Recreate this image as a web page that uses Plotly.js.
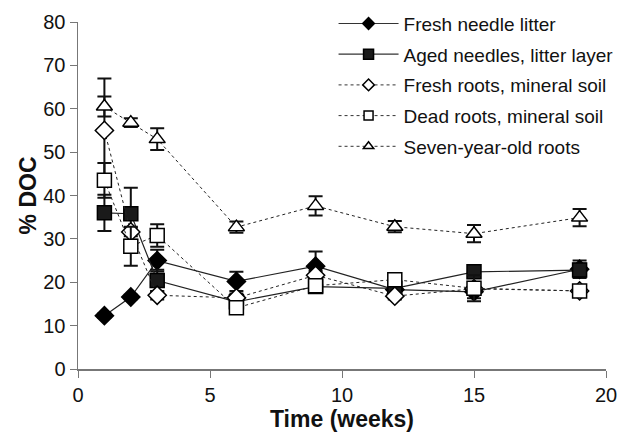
<!DOCTYPE html>
<html>
<head>
<meta charset="utf-8">
<script src="https://cdn.plot.ly/plotly-3.0.1.min.js"></script>
<style>html,body{margin:0;padding:0;background:#fff;}#chart{width:622px;height:435px;}</style>
</head>
<body>
<div id="chart"></div>
<script>
const weeks = [1, 2, 3, 6, 9, 12, 15, 19];

const seriesNames = [
  "Fresh needle litter",
  "Aged needles, litter layer",
  "Fresh roots, mineral soil",
  "Dead roots, mineral soil",
  "Seven-year-old roots"
];

const freshNeedle = [12.3, 16.6, 25.0, 20.2, 23.7, 18.3, 17.8, 23.0];
const freshNeedleErr = [0.5, 0.5, 2.5, 2.2, 3.4, 0.8, 1.5, 2.0];

const agedNeedles = [36.0, 35.8, 20.4, 15.5, 19.0, 18.6, 22.4, 22.8];
const agedNeedlesErr = [4.2, 6.0, 2.5, 1.0, 1.0, 1.0, 1.0, 1.5];

const freshRoots = [55.0, 31.6, 17.0, 16.4, 21.6, 16.8, 18.5, 18.0];
const freshRootsErr = [12.0, 1.0, 1.0, 1.0, 1.0, 0.8, 1.0, 0.8];

const deadRoots = [43.5, 28.3, 30.8, 14.1, 19.2, 20.6, 18.6, 18.0];
const deadRootsErr = [4.0, 4.5, 2.6, 1.0, 1.0, 1.0, 3.0, 1.0];

const sevenYear = [60.5, 56.8, 53.0, 32.7, 37.6, 32.8, 31.2, 34.9];
const sevenYearErr = [2.3, 1.0, 2.5, 1.3, 2.2, 1.3, 2.0, 2.0];

const values = [freshNeedle, agedNeedles, freshRoots, deadRoots, sevenYear];
const errors = [freshNeedleErr, agedNeedlesErr, freshRootsErr, deadRootsErr, sevenYearErr];
const symbols = ["diamond", "square", "diamond", "square", "triangle-up"];
const fills = ["#000", "#1a1a1a", "#fff", "#fff", "#fff"];
const dashes = ["solid", "solid", "dot", "dot", "dot"];

const dataTraces = seriesNames.map((name, i) => ({
  type: "scatter",
  mode: "lines+markers",
  name: name,
  legendgroup: "g" + i,
  showlegend: false,
  x: weeks,
  y: values[i],
  error_y: {type: "data", array: errors[i], visible: true, color: "#111", thickness: 2, width: 7},
  line: {color: "#222", width: i < 2 ? 1.2 : 1, dash: dashes[i]},
  marker: {symbol: symbols[i], size: 14, color: fills[i], line: {color: "#000", width: 1.5}}
}));

// legend-only entries (small symbols, as in the reference legend)
const legendTraces = seriesNames.map((name, i) => ({
  type: "scatter",
  mode: "lines+markers",
  name: name,
  legendgroup: "g" + i,
  x: [null],
  y: [null],
  line: {color: "#333", width: i < 2 ? 1.2 : 1, dash: dashes[i]},
  marker: {symbol: symbols[i], size: i === 1 ? 10 : 9, color: fills[i], line: {color: "#000", width: 1.5}}
}));

const layout = {
  width: 622, height: 435,
  margin: {l: 78, r: 16, t: 22, b: 66, autoexpand: false},
  paper_bgcolor: "#fff", plot_bgcolor: "#fff",
  font: {family: "Liberation Sans, Arial, sans-serif", color: "#111", size: 20},
  showlegend: true,
  legend: {
    x: 0.484, y: 1.05, xanchor: "left", yanchor: "top",
    bgcolor: "rgba(0,0,0,0)",
    font: {size: 19, family: "Liberation Sans, Arial, sans-serif"},
    tracegroupgap: 3,
    itemwidth: 60
  },
  xaxis: {
    range: [0, 20], tickvals: [0, 5, 10, 15, 20],
    showgrid: false, zeroline: false,
    showline: true, linecolor: "#777", linewidth: 1.5,
    ticks: "outside", ticklen: 7, tickcolor: "#777",
    tickfont: {size: 20},
    title: {text: "<b>Time (weeks)</b>", font: {size: 23}, standoff: 6}
  },
  yaxis: {
    range: [0, 80], tickvals: [0, 10, 20, 30, 40, 50, 60, 70, 80],
    showgrid: false, zeroline: false,
    showline: true, linecolor: "#777", linewidth: 1.5,
    ticks: "outside", ticklen: 7, tickcolor: "#777",
    tickfont: {size: 20},
    title: {text: "<b>% DOC</b>", font: {size: 23}, standoff: 0}
  }
};

Plotly.newPlot("chart", dataTraces.concat(legendTraces), layout, {displayModeBar: false, staticPlot: true});
</script>
</body>
</html>
